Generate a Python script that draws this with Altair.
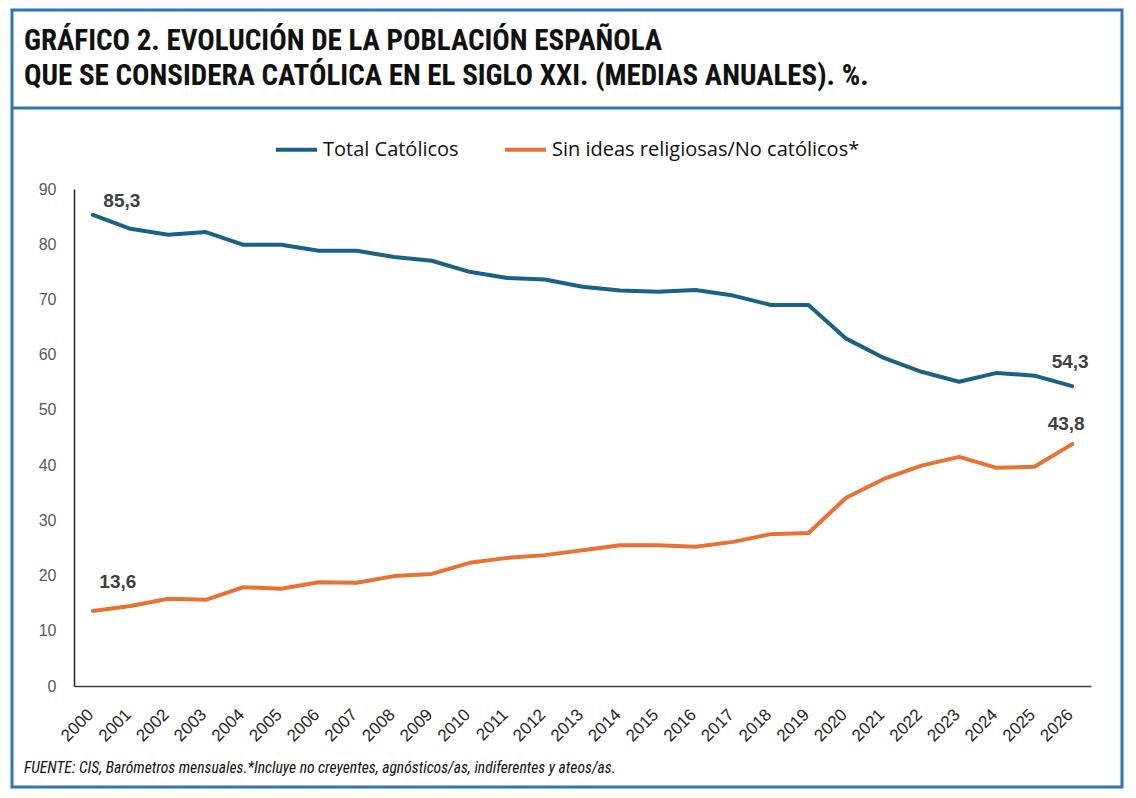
import altair as alt
import pandas as pd

years = [str(y) for y in range(2000, 2027)]
catolicos = [85.3, 82.8, 81.7, 82.2, 79.9, 79.9, 78.8, 78.8, 77.7, 77.0, 75.0, 73.9, 73.6,
             72.3, 71.6, 71.4, 71.7, 70.7, 69.0, 69.0, 62.9, 59.4, 56.9, 55.1, 56.7, 56.2, 54.3]
no_catolicos = [13.6, 14.5, 15.8, 15.6, 17.9, 17.6, 18.8, 18.7, 19.9, 20.3, 22.3, 23.2, 23.7,
                24.6, 25.5, 25.5, 25.2, 26.1, 27.5, 27.7, 34.1, 37.5, 39.9, 41.5, 39.5, 39.7, 43.8]
series_names = ["Total Católicos", "Sin ideas religiosas/No católicos*"]
colors = ["#1A6185", "#E97132"]

title_lines = ["GRÁFICO 2. EVOLUCIÓN DE LA POBLACIÓN ESPAÑOLA",
               "QUE SE CONSIDERA CATÓLICA EN EL SIGLO XXI. (MEDIAS ANUALES). %."]
footer = "FUENTE: CIS, Barómetros mensuales.*Incluye no creyentes, agnósticos/as, indiferentes y ateos/as."

rows = []
for i, y in enumerate(years):
    rows.append({"year": y, "value": catolicos[i], "serie": series_names[0]})
    rows.append({"year": y, "value": no_catolicos[i], "serie": series_names[1]})
df = pd.DataFrame(rows)

def lab(v):
    return f"{v:.1f}".replace(".", ",")

one = pd.DataFrame({"a": [0]})
COND = "Roboto Condensed"

W, H = 1017, 497
x_enc = alt.X("year:O", title=None,
              axis=alt.Axis(labelAngle=-45, ticks=False, labelPadding=20, labelOffset=-8,
                            labelFontSize=17, labelColor="#262626", labelFont="Liberation Sans",
                            domainColor="#404040", domainWidth=1.5))
y_enc = alt.Y("value:Q", title=None,
              scale=alt.Scale(domain=[0, 90], nice=False),
              axis=alt.Axis(values=list(range(0, 91, 10)), ticks=False, grid=False,
                            labelPadding=18, labelFontSize=16, labelColor="#595959",
                            labelFont="Liberation Sans", domainColor="#222222", domainWidth=1.5))

border = alt.Chart(one).mark_rect(fill="transparent", stroke="#2E75B6", strokeWidth=3).encode(
    x=alt.value(-62), x2=alt.value(1048), y=alt.value(-179), y2=alt.value(598))
sep = alt.Chart(one).mark_rule(stroke="#2E75B6", strokeWidth=3).encode(
    x=alt.value(-62), x2=alt.value(1048), y=alt.value(-81))
t1 = alt.Chart(one).mark_text(align="left", baseline="alphabetic", font=COND,
                              fontWeight="bold", fontSize=29, color="#111111").encode(
    x=alt.value(-50), y=alt.value(-139), text=alt.value(title_lines[0]))
t2 = alt.Chart(one).mark_text(align="left", baseline="alphabetic", font=COND,
                              fontWeight="bold", fontSize=29, color="#111111").encode(
    x=alt.value(-50), y=alt.value(-104), text=alt.value(title_lines[1]))
foot = alt.Chart(one).mark_text(align="left", baseline="alphabetic", font=COND,
                                fontStyle="italic", fontSize=15.6, color="#111111").encode(
    x=alt.value(-50), y=alt.value(584), text=alt.value(footer))

lines = alt.Chart(df).mark_line(strokeWidth=4, strokeCap="round", strokeJoin="round").encode(
    x=x_enc, y=y_enc,
    color=alt.Color("serie:N", sort=series_names,
                    scale=alt.Scale(domain=series_names, range=colors),
                    legend=alt.Legend(title=None, orient="none", direction="horizontal",
                                      legendX=200, legendY=-62, symbolType="stroke",
                                      symbolSize=1681, symbolStrokeWidth=4,
                                      labelFontSize=20, labelFont="Open Sans", labelColor="#111111",
                                      labelOffset=4, columnPadding=38, labelLimit=500)))

def label_layer(year, value, dx, dy):
    d = pd.DataFrame({"year": [year], "value": [value], "txt": [lab(value)]})
    return alt.Chart(d).mark_text(dx=dx, dy=dy, fontSize=19, fontWeight="bold",
                                  font="Liberation Sans", color="#404040").encode(
        x="year:O", y="value:Q", text="txt:N")

labels = [
    label_layer(years[0], catolicos[0], 29, -14),
    label_layer(years[0], no_catolicos[0], 25, -29),
    label_layer(years[-1], catolicos[-1], -2, -24),
    label_layer(years[-1], no_catolicos[-1], -6, -20),
]

chart = alt.layer(border, sep, t1, t2, foot, lines, *labels).properties(
    width=W, height=H,
    autosize=alt.AutoSizeParams(type="none"),
    padding={"left": 66, "top": 181, "right": 37, "bottom": 104},
    background="white",
).configure_view(stroke=None)

chart.save("out.html", embed_options={"renderer": "svg", "actions": False})
